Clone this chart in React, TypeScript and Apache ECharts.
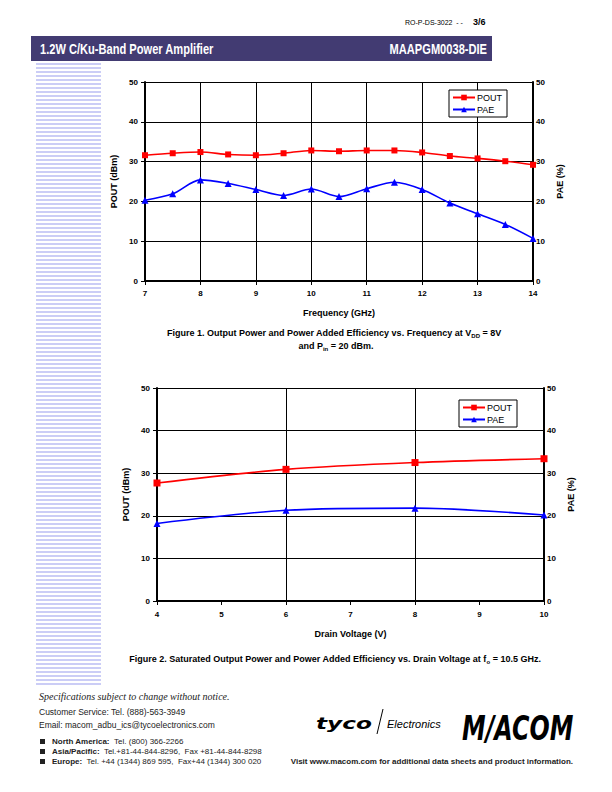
import React, { useEffect, useRef } from 'react';
import * as echarts from 'echarts';

// ---------- data ----------
const freqGHz = [7, 7.5, 8, 8.5, 9, 9.5, 10, 10.5, 11, 11.5, 12, 12.5, 13, 13.5, 14];
const poutVsFreq = [31.6, 32.1, 32.4, 31.8, 31.6, 32.1, 32.8, 32.6, 32.8, 32.8, 32.3, 31.4, 30.8, 30.1, 29.2];
const paeVsFreq = [20.3, 21.9, 25.4, 24.5, 23.0, 21.5, 23.1, 21.2, 23.2, 24.8, 23.0, 19.6, 16.9, 14.2, 10.7];

const drainVoltage = [4, 6, 8, 10];
const poutVsVdd = [27.7, 30.9, 32.5, 33.4];
const paeVsVdd = [18.2, 21.3, 21.8, 20.2];

const yTicks = [0, 10, 20, 30, 40, 50];
const freqTicks = [7, 8, 9, 10, 11, 12, 13, 14];
const vddTicks = [4, 5, 6, 7, 8, 9, 10];
const vddGridTicks = [4, 6, 8, 10];

const seriesNames = ['POUT', 'PAE'];

const F = '"Liberation Sans", Arial, Helvetica, sans-serif';

function range(t: number[]) {
  return { min: t[0], max: t[t.length - 1], interval: t[1] - t[0] };
}

function txt(x: number, y: number, text: string, o: any = {}) {
  const { scaleX, rich, ...st } = o;
  const el: any = {
    type: 'text',
    x,
    y,
    style: {
      text,
      fontFamily: F,
      fontSize: 9,
      fill: '#000',
      align: 'left',
      verticalAlign: 'middle',
      ...st,
    },
  };
  if (rich) el.style.rich = rich;
  if (scaleX) el.scaleX = scaleX;
  return el;
}

function App() {
  const ref = useRef<HTMLDivElement>(null);
  useEffect(() => {
    if (!ref.current) return;
    const chart = echarts.init(ref.current, null, { renderer: 'svg' });

    const labelStyle = { color: '#000', fontSize: 8, fontWeight: 'bold', fontFamily: F };
    const nameStyle = { color: '#000', fontSize: 9, fontWeight: 'bold', fontFamily: F };
    const blackLine = { color: '#000', width: 2 };
    const tick = { show: true, inside: false, length: 4, lineStyle: { color: '#000', width: 1 } };
    const tickIn = { show: true, inside: true, length: 4, lineStyle: { color: '#000', width: 1 } };
    const split = { show: true, lineStyle: { color: '#000', width: 1 } };

    const yAxis = (grid: number, pos: 'left' | 'right', name: string, gap: number, margin: number) => ({
      type: 'value',
      gridIndex: grid,
      position: pos,
      ...range(yTicks),
      name,
      nameLocation: 'middle',
      nameGap: gap,
      nameRotate: 90,
      nameTextStyle: nameStyle,
      axisLine: { show: true, lineStyle: blackLine },
      axisTick: pos === 'left' ? tick : tickIn,
      axisLabel: { ...labelStyle, margin },
      splitLine: pos === 'left' ? split : { show: false },
    });

    const subRich = {
      sub: { fontSize: 6, fontWeight: 'bold', fontFamily: F, verticalAlign: 'bottom', lineHeight: 7 },
    };

    // left lavender stripes (decoration)
    const stripes: any[] = [];
    for (let y = 63; y < 684; y += 4) {
      stripes.push({ type: 'rect', shape: { x: 36, y, width: 65, height: 2 }, style: { fill: '#CBCDF6' }, silent: true });
    }

    const lineSeries = (name: string, xi: number, yi: number, xs: number[], ys: number[], color: string, symbol: string, size: number) => ({
      name,
      type: 'line',
      xAxisIndex: xi,
      yAxisIndex: yi,
      data: xs.map((x, i) => [x, ys[i]]),
      smooth: 0.3,
      symbol,
      symbolSize: size,
      lineStyle: { color, width: 1.6 },
      itemStyle: { color },
      z: 5,
    });

    const legend = (left: number, top: number) => ({
      data: seriesNames,
      orient: 'vertical',
      left,
      top,
      borderColor: '#000',
      borderWidth: 1,
      padding: [3, 5, 3, 3],
      itemGap: 3,
      itemWidth: 22,
      itemHeight: 7,
      textStyle: { fontSize: 9, fontFamily: F, color: '#000', padding: [0, 0, 0, -3] },
      backgroundColor: '#fff',
    });

    const boldRich = { b: { fontSize: 8, fontWeight: 'bold', fontFamily: F, fill: '#222' } };

    chart.setOption({
      animation: false,
      textStyle: { fontFamily: F },
      grid: [
        { left: 145, top: 82, width: 388, height: 199, containLabel: false },
        { left: 157, top: 388, width: 387, height: 213, containLabel: false },
      ],
      xAxis: [
        {
          type: 'value',
          gridIndex: 0,
          ...range(freqTicks),
          name: 'Frequency (GHz)',
          nameLocation: 'middle',
          nameGap: 27,
          nameTextStyle: nameStyle,
          axisLine: { show: true, lineStyle: blackLine },
          axisTick: tick,
          axisLabel: { ...labelStyle, margin: 8 },
          splitLine: split,
        },
        {
          type: 'value',
          gridIndex: 1,
          ...range(vddTicks),
          name: 'Drain Voltage (V)',
          nameLocation: 'middle',
          nameGap: 28,
          nameTextStyle: nameStyle,
          axisLine: { show: true, lineStyle: blackLine },
          axisTick: tick,
          axisLabel: { ...labelStyle, margin: 9 },
          splitLine: { show: false },
        },
        {
          type: 'value',
          gridIndex: 1,
          ...range(vddGridTicks),
          axisLine: { show: false },
          axisTick: { show: false },
          axisLabel: { show: false },
          splitLine: split,
        },
      ],
      yAxis: [
        yAxis(0, 'left', 'POUT (dBm)', 19, 7),
        yAxis(0, 'right', 'PAE (%)', 18, 3),
        yAxis(1, 'left', 'POUT (dBm)', 20, 7),
        yAxis(1, 'right', 'PAE (%)', 18, 3),
      ],
      legend: [legend(449, 90), legend(459, 400)],
      series: [
        lineSeries('POUT', 0, 0, freqGHz, poutVsFreq, '#FF0000', 'rect', 6),
        lineSeries('PAE', 0, 1, freqGHz, paeVsFreq, '#0000FF', 'triangle', 7),
        lineSeries('POUT', 1, 2, drainVoltage, poutVsVdd, '#FF0000', 'rect', 7),
        lineSeries('PAE', 1, 3, drainVoltage, paeVsVdd, '#0000FF', 'triangle', 7),
      ],
      graphic: [
        ...stripes,
        // header
        txt(405, 22, 'RO-P-DS-3022  - -', { fontSize: 7 }),
        txt(473, 22, '3/6', { fontSize: 9, fontWeight: 'bold' }),
        { type: 'rect', shape: { x: 31, y: 36, width: 461, height: 25 }, style: { fill: '#423B72' } },
        txt(40, 49, '1.2W C/Ku-Band Power Amplifier', { fontSize: 15, fontWeight: 'bold', fill: '#fff', scaleX: 0.74 }),
        txt(487, 49, 'MAAPGM0038-DIE', { fontSize: 15, fontWeight: 'bold', fill: '#fff', align: 'right', scaleX: 0.74 }),
        // captions
        txt(334, 333, 'Figure 1. Output Power and Power Added Efficiency vs. Frequency at V{sub|DD} = 8V', {
          fontSize: 9, fontWeight: 'bold', align: 'center', lineHeight: 12, rich: subRich,
        }),
        txt(336, 346, 'and P{sub|in} = 20 dBm.', {
          fontSize: 9, fontWeight: 'bold', align: 'center', lineHeight: 12, rich: subRich,
        }),
        txt(335, 659, 'Figure 2. Saturated Output Power and Power Added Efficiency vs. Drain Voltage at f{sub|o} = 10.5 GHz.', {
          fontSize: 9, fontWeight: 'bold', align: 'center', lineHeight: 12, rich: subRich,
        }),
        // footer
        txt(39, 696, 'Specifications subject to change without notice.', {
          fontSize: 10, fontStyle: 'italic', fontFamily: '"Liberation Serif", "DejaVu Serif", serif', fill: '#222',
        }),
        txt(39, 712, 'Customer Service: Tel. (888)-563-3949', { fontSize: 8.5, fill: '#222' }),
        txt(39, 725, 'Email: macom_adbu_ics@tycoelectronics.com', { fontSize: 8.5, fill: '#222' }),
        { type: 'rect', shape: { x: 40, y: 739, width: 5, height: 5 }, style: { fill: '#222' } },
        { type: 'rect', shape: { x: 40, y: 749, width: 5, height: 5 }, style: { fill: '#222' } },
        { type: 'rect', shape: { x: 40, y: 759, width: 5, height: 5 }, style: { fill: '#222' } },
        txt(52, 741, '{b|North America:}  Tel. (800) 366-2266', { fontSize: 8, fill: '#222', rich: boldRich }),
        txt(52, 751, '{b|Asia/Pacific:}  Tel.+81-44-844-8296,  Fax +81-44-844-8298', { fontSize: 8, fill: '#222', rich: boldRich }),
        txt(52, 761, '{b|Europe:}  Tel. +44 (1344) 869 595,  Fax+44 (1344) 300 020', { fontSize: 8, fill: '#222', rich: boldRich }),
        txt(573, 761, 'Visit www.macom.com for additional data sheets and product information.', {
          fontSize: 8, fontWeight: 'bold', fill: '#222', align: 'right',
        }),
        // logos
        txt(316, 724, 'tyco', {
          fontSize: 16, fontWeight: 'bold', fontStyle: 'italic', fontFamily: '"DejaVu Sans", sans-serif', scaleX: 1.45,
        }),
        { type: 'line', shape: { x1: 383, y1: 709, x2: 377, y2: 734 }, style: { stroke: '#000', lineWidth: 1 } },
        txt(387, 724, 'Electronics', { fontSize: 11, fontStyle: 'italic' }),
        txt(462, 728, 'M/ACOM', {
          fontSize: 34, fontWeight: 'bold', fontStyle: 'italic', fontFamily: '"DejaVu Sans", sans-serif', scaleX: 0.7,
        }),
      ],
    });
    return () => chart.dispose();
  }, []);
  return <div ref={ref} style={{ position: 'absolute', left: 0, top: 0, width: 612, height: 792, background: '#fff' }} />;
}

export default App;
